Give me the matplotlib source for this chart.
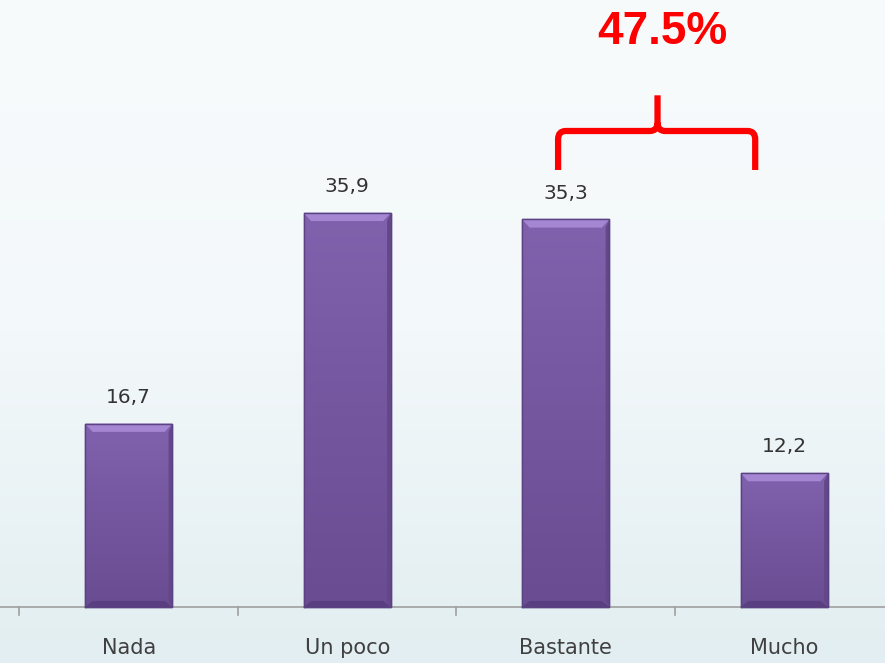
import matplotlib.pyplot as plt
import numpy as np
from matplotlib.path import Path
from matplotlib.patches import PathPatch, Polygon
from matplotlib.colors import LinearSegmentedColormap

categories = ["Nada", "Un poco", "Bastante", "Mucho"]
values = [16.7, 35.9, 35.3, 12.2]
value_labels = ["16,7", "35,9", "35,3", "12,2"]
brace_text = "47.5%"

fig = plt.figure(figsize=(8.85, 6.63), dpi=100)
ax = fig.add_axes([0, 0, 1, 1])
ax.set_xlim(-0.589, 3.461)
ax.set_ylim(-5.1, 55.28)
ax.axis("off")

# background gradient
bg = np.linspace(0, 1, 256).reshape(-1, 1)
bg_cmap = LinearSegmentedColormap.from_list("bg", ["#f8fbfc", "#f3f8fa", "#e2eef1"])
ax.imshow(bg, cmap=bg_cmap, aspect="auto", extent=[-0.589, 3.461, -5.1, 55.28],
          origin="upper", zorder=0)

x = np.arange(len(categories))
bar_w = 0.4
bars = ax.bar(x, values, width=bar_w, color="#765aa3", edgecolor="#5a4282",
              linewidth=1.0, zorder=2)

bar_cmap = LinearSegmentedColormap.from_list("bar", ["#6a4c92", "#7f61ad"])
for b in bars:
    x0, w, h = b.get_x(), b.get_width(), b.get_height()
    g = np.linspace(0, 1, 100).reshape(-1, 1)
    im = ax.imshow(g, cmap=bar_cmap, aspect="auto", origin="lower",
                   extent=[x0, x0 + w, 0, h], zorder=2.1)
    im.set_clip_path(b)
    # bevel: light top, dark bottom
    dx, dy = 0.035, 0.75
    ax.add_patch(Polygon([[x0, h], [x0 + w, h], [x0 + w - dx, h - dy], [x0 + dx, h - dy]],
                         closed=True, facecolor="#a486d2", edgecolor="none", zorder=2.2))
    ax.add_patch(Polygon([[x0, 0], [x0 + w, 0], [x0 + w - dx, 0.55], [x0 + dx, 0.55]],
                         closed=True, facecolor="#5a3f80", edgecolor="none", zorder=2.2))
    ax.add_patch(Polygon([[x0 + w, 0], [x0 + w, h], [x0 + w - dx * 0.5, h - dy], [x0 + w - dx * 0.5, 0.55]],
                         closed=True, facecolor="#634789", edgecolor="none", zorder=2.2))
    ax.plot([x0, x0 + w, x0 + w, x0, x0], [0, 0, h, h, 0], color="#5b4383", lw=1.0, zorder=2.3)

for xi, v, lab in zip(x, values, value_labels):
    ax.annotate(lab, (xi, v), xytext=(0, 12), textcoords="offset points",
                ha="center", va="bottom", fontsize=14.5, color="#333333",
                family=["DejaVu Sans"], zorder=3)

# axis line and ticks
ax.plot([-0.589, 3.461], [0, 0], color="#a0a0a0", lw=1.2, zorder=1.5, clip_on=False)
for t in np.arange(len(categories) + 1) - 0.5:
    ax.plot([t, t], [0, -0.75], color="#a0a0a0", lw=1.2, zorder=1.5)

for xi, c in zip(x, categories):
    ax.text(xi, -3.7, c, ha="center", va="center", fontsize=15, color="#404040",
            family=["Liberation Sans Narrow", "DejaVu Sans"], zorder=3)

# brace over Bastante + Mucho
xl, xr = 2 - 0.035, 3 - 0.133
xm = 2.42
yb, yh, yt = 39.8, 43.35, 46.6
rx, ry = 0.035, 0.75
verts = [
    (xl, yb), (xl, yh - ry), (xl, yh), (xl + rx, yh),
    (xm - rx, yh), (xm, yh), (xm, yh + ry), (xm, yt),
    (xm, yh + ry), (xm, yh), (xm + rx, yh),
    (xr - rx, yh), (xr, yh), (xr, yh - ry), (xr, yb),
]
codes = [
    Path.MOVETO, Path.LINETO, Path.CURVE3, Path.CURVE3,
    Path.LINETO, Path.CURVE3, Path.CURVE3, Path.LINETO,
    Path.MOVETO, Path.CURVE3, Path.CURVE3,
    Path.LINETO, Path.CURVE3, Path.CURVE3, Path.LINETO,
]
ax.add_patch(PathPatch(Path(verts, codes), facecolor="none", edgecolor="#ff0000",
                       lw=4.5, capstyle="butt", joinstyle="round", zorder=4))
ax.text(2.44, 52.4, brace_text, ha="center", va="center", fontsize=33,
        fontweight="bold", color="#ff0000", family=["Liberation Sans", "DejaVu Sans"], zorder=4)

fig.savefig("out.png", dpi=100)
